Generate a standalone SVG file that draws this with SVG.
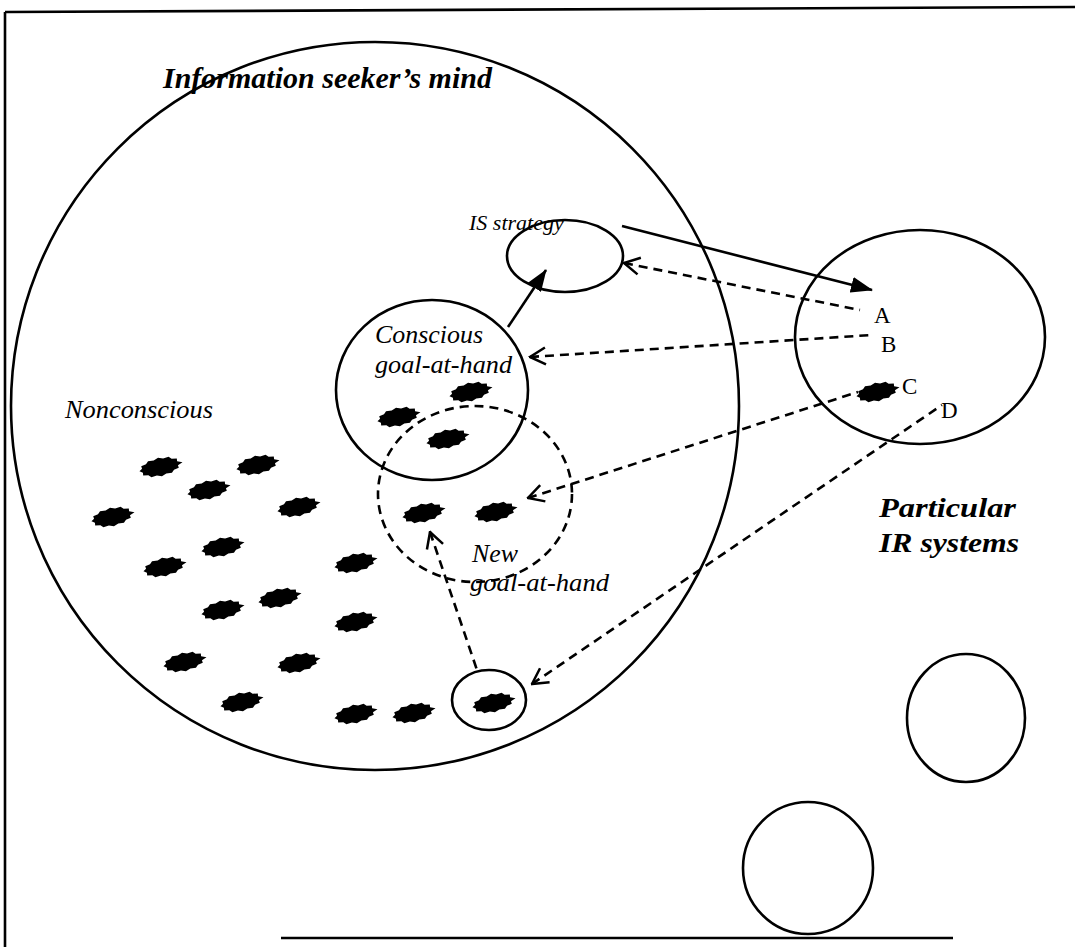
<svg xmlns="http://www.w3.org/2000/svg" width="1075" height="947" viewBox="0 0 1075 947">
<style>
.ln{fill:none;stroke:#000;stroke-width:2.6}
.ds{fill:none;stroke:#000;stroke-width:2.6;stroke-dasharray:9 6}
.it{font-family:"Liberation Serif","Times New Roman",serif;font-style:italic;fill:#000}
.bi{font-family:"Liberation Serif","Times New Roman",serif;font-style:italic;font-weight:bold;fill:#000}
.rg{font-family:"Liberation Serif","Times New Roman",serif;fill:#000;font-size:23px}
</style>
<defs>
<polygon id="blob" points="23,0 17.9,2.1 18.2,4.75 13.1,5.7 10.5,8.2 4.8,7.7 0,9.5 -4.8,7.7 -10.5,8.2 -13.1,5.7 -18.2,4.75 -17.9,2.1 -21,0 -17.9,-2.1 -18.2,-4.75 -13.1,-5.7 -10.5,-8.2 -4.8,-7.7 0,-9.5 4.8,-7.7 10.5,-8.2 13.1,-5.7 18.2,-4.75 17.9,-2.1" fill="#000"/>
<marker id="fill" viewBox="0 0 22 16" refX="21" refY="8" markerWidth="22" markerHeight="16" markerUnits="userSpaceOnUse" orient="auto"><path d="M0,0 L22,8 L0,16 z" fill="#000"/></marker>
<marker id="open" viewBox="0 0 18 20" refX="1.5" refY="10" markerWidth="18" markerHeight="20" markerUnits="userSpaceOnUse" orient="auto"><path d="M17,1.5 L1.5,10 L17,18.5" fill="none" stroke="#000" stroke-width="2.5"/></marker>
</defs>
<rect width="1075" height="947" fill="#fff"/>
<g id="frame" class="ln">
<path d="M5,12 L1075,7"/>
<path d="M5,12 L5,947"/>
<path d="M281,938 L953,938"/>
</g>
<g id="mind">
<circle class="ln" cx="375" cy="406" r="364"/>
<text class="bi" x="163" y="88" font-size="30">Information seeker’s mind</text>
<text class="it" x="65" y="418" font-size="26" textLength="148" lengthAdjust="spacingAndGlyphs">Nonconscious</text>
</g>
<g id="is-strategy">
<ellipse class="ln" cx="565" cy="256" rx="58" ry="36"/>
<text class="it" x="469" y="230" font-size="22">IS strategy</text>
</g>
<g id="conscious">
<ellipse class="ln" cx="432" cy="390" rx="96" ry="90"/>
<text class="it" x="375" y="343" font-size="26" textLength="108" lengthAdjust="spacingAndGlyphs">Conscious</text>
<text class="it" x="375" y="373" font-size="26" textLength="137" lengthAdjust="spacingAndGlyphs">goal-at-hand</text>
</g>
<g id="new-goal">
<ellipse class="ds" cx="475" cy="494" rx="97" ry="88"/>
<text class="it" x="472" y="562" font-size="26" textLength="46" lengthAdjust="spacingAndGlyphs">New</text>
<text class="it" x="470" y="591" font-size="26" textLength="139" lengthAdjust="spacingAndGlyphs">goal-at-hand</text>
</g>
<g id="small-goal">
<ellipse class="ln" cx="489" cy="700" rx="37" ry="30"/>
</g>
<g id="ir-systems">
<ellipse class="ln" cx="920" cy="337" rx="125" ry="107"/>
<text class="rg" x="874" y="323">A</text>
<text class="rg" x="881" y="352">B</text>
<text class="rg" x="902" y="394">C</text>
<text class="rg" x="941" y="418">D</text>
<text class="bi" x="879" y="517" font-size="28" textLength="137" lengthAdjust="spacingAndGlyphs">Particular</text>
<text class="bi" x="879" y="552" font-size="28" textLength="140" lengthAdjust="spacingAndGlyphs">IR systems</text>
</g>
<g id="ir-other-1"><ellipse class="ln" cx="966" cy="718" rx="59" ry="64"/></g>
<g id="ir-other-2"><ellipse class="ln" cx="808" cy="868" rx="65" ry="66"/></g>
<g id="blobs">
<use href="#blob" transform="translate(470,392) rotate(-12)"/>
<use href="#blob" transform="translate(398,417) rotate(-12)"/>
<use href="#blob" transform="translate(447,439) rotate(-12)"/>
<use href="#blob" transform="translate(423,513) rotate(-12)"/>
<use href="#blob" transform="translate(495,512) rotate(-12)"/>
<use href="#blob" transform="translate(160,467) rotate(-12)"/>
<use href="#blob" transform="translate(257,465) rotate(-12)"/>
<use href="#blob" transform="translate(208,490) rotate(-12)"/>
<use href="#blob" transform="translate(298,507) rotate(-12)"/>
<use href="#blob" transform="translate(112,517) rotate(-12)"/>
<use href="#blob" transform="translate(222,547) rotate(-12)"/>
<use href="#blob" transform="translate(164,567) rotate(-12)"/>
<use href="#blob" transform="translate(355,563) rotate(-12)"/>
<use href="#blob" transform="translate(222,610) rotate(-12)"/>
<use href="#blob" transform="translate(279,598) rotate(-12)"/>
<use href="#blob" transform="translate(355,622) rotate(-12)"/>
<use href="#blob" transform="translate(184,662) rotate(-12)"/>
<use href="#blob" transform="translate(298,663) rotate(-12)"/>
<use href="#blob" transform="translate(241,702) rotate(-12)"/>
<use href="#blob" transform="translate(355,714) rotate(-12)"/>
<use href="#blob" transform="translate(413,713) rotate(-12)"/>
<use href="#blob" transform="translate(493,703) rotate(-12)"/>
<use href="#blob" transform="translate(877,392) rotate(-12)"/>
</g>
<g id="connectors">
<path class="ln" d="M622,226 L872,290" marker-end="url(#fill)"/>
<path class="ln" d="M508,327 L546,270" marker-end="url(#fill)"/>
<path class="ds" d="M624,263 L860,310" marker-start="url(#open)"/>
<path class="ds" d="M530,357 L872,335" marker-start="url(#open)"/>
<path class="ds" d="M528,498 L858,392" marker-start="url(#open)"/>
<path class="ds" d="M532,684 L942,405" marker-start="url(#open)"/>
<path class="ds" d="M430,532 L477,670" marker-start="url(#open)"/>
</g>
</svg>
